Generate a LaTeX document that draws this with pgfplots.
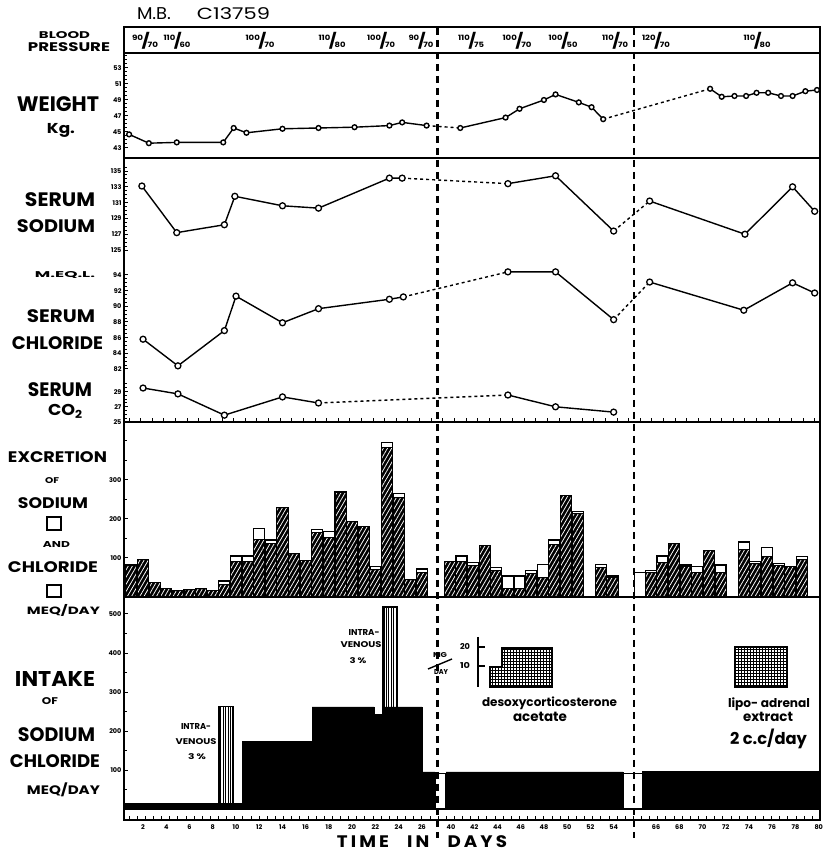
\documentclass[border=0pt]{standalone}
\usepackage{pgfplots}
\pgfplotsset{compat=1.18}
\usepackage{fontspec}
\setmainfont{Poppins}
\usetikzlibrary{patterns,patterns.meta}

\newcommand\lbl[5]{\node[inner sep=0pt] at (#1,#2) {\resizebox*{#3pt}{#4pt}{\bfseries #5}};}
\newcommand\lblw[4]{\node[inner sep=0pt] at (#1,#2) {\resizebox{#3pt}{!}{\bfseries #4}};}
\newcommand\bpf[2]{\raisebox{.55em}{\scriptsize #1}\kern-.12em{\Large/}\kern-.18em\raisebox{-.05em}{\scriptsize #2}}

\pgfplotsset{
  panel/.style={scale only axis, width=696pt, xmin=0.36, xmax=60.26, anchor=south west,
    axis line style={line width=2.2pt}, tick style={line width=1pt, black},
    major tick length=4pt, minor tick length=3pt,
    ytick pos=left, xtick pos=left,
    /pgf/number format/assume math mode=true,
    ticklabel style={font=\fontsize{6.5}{6.5}\selectfont\bfseries},
    yticklabel style={xshift=1pt},
    clip=false},
  wt/.style={line width=1.4pt, mark=*, mark size=2.4pt, mark options={fill=white, line width=1.4pt, solid}},
  sr/.style={line width=1.4pt, mark=*, mark size=3pt, mark options={fill=white, line width=1.3pt, solid}},
  dt/.style={line width=1.4pt, dash pattern=on 3pt off 3pt, no marks},
}

\begin{document}
\begin{tikzpicture}
\useasboundingbox (0,0) rectangle (823pt,853pt);

% ---------------- blood pressure strip
\begin{axis}[panel, at={(124pt,800pt)}, height=26pt, ymin=0, ymax=1, xtick=\empty, ytick=\empty]
\end{axis}

% ---------------- weight
\begin{axis}[panel, at={(124pt,695pt)}, height=105pt, ymin=41.75, ymax=54.875,
  ytick={43,45,...,53}, minor ytick={43.5,44,...,54.5}, xtick=\empty]
\addplot[dt] coordinates {(26.4,45.8)(29.3,45.5)};
\addplot[dt] coordinates {(41.6,46.6)(50.8,50.4)};
\addplot[wt] coordinates {(0.8,44.7)(2.5,43.6)(4.9,43.7)(8.9,43.7)(9.8,45.5)(10.9,44.9)(14.0,45.4)(17.1,45.5)(20.2,45.6)(23.2,45.8)(24.3,46.2)(26.4,45.8)};
\addplot[wt] coordinates {(29.3,45.5)(33.2,46.8)(34.4,47.9)(36.5,49.0)(37.5,49.7)(39.5,48.7)(40.6,48.1)(41.6,46.6)};
\addplot[wt] coordinates {(50.8,50.4)(51.8,49.4)(52.9,49.5)(53.9,49.5)(54.8,49.9)(55.8,49.9)(56.9,49.5)(57.9,49.5)(59.0,50.1)(60.0,50.25)};
\end{axis}

% ---------------- serum sodium (frame)
\begin{axis}[panel, at={(124pt,431pt)}, height=264pt, ymin=103.23, ymax=136.65,
  ytick={125,127,...,135}, minor ytick={125.5,126,...,135.5},
  xtick={0.8,1.8,...,60.2}, xticklabels={}]
\addplot[dt] coordinates {(24.3,134.1)(33.4,133.4)};
\addplot[dt] coordinates {(42.5,127.4)(45.6,131.2)};
\addplot[sr] coordinates {(1.9,133.1)(4.9,127.2)(9.0,128.2)(9.9,131.8)(14.0,130.6)(17.1,130.3)(23.2,134.1)(24.3,134.1)};
\addplot[sr] coordinates {(33.4,133.4)(37.5,134.4)(42.5,127.4)};
\addplot[sr] coordinates {(45.6,131.2)(53.8,127.0)(57.9,133.0)(59.8,129.9)};
\end{axis}

% ---------------- serum chloride (overlay)
\begin{axis}[panel, at={(124pt,431pt)}, height=264pt, ymin=75.23, ymax=108.94,
  axis line style={draw=none}, xtick=\empty,
  ytick={82,84,...,94}, minor ytick={82.5,83,...,94}]
\addplot[dt] coordinates {(24.4,91.2)(33.4,94.4)};
\addplot[dt] coordinates {(42.5,88.3)(45.6,93.1)};
\addplot[sr] coordinates {(2.0,85.8)(5.0,82.4)(9.0,86.9)(10.0,91.3)(14.0,87.9)(17.1,89.7)(23.2,90.9)(24.4,91.2)};
\addplot[sr] coordinates {(33.4,94.4)(37.5,94.4)(42.5,88.3)};
\addplot[sr] coordinates {(45.6,93.1)(53.7,89.5)(57.9,93.0)(59.8,91.7)};
\end{axis}

% ---------------- serum CO2 (overlay)
\begin{axis}[panel, at={(124pt,431pt)}, height=264pt, ymin=25, ymax=59.74,
  axis line style={draw=none}, xtick=\empty,
  ytick={25,27,29}, minor ytick={25.5,26,...,30}]
\addplot[dt] coordinates {(17.1,27.5)(33.4,28.55)};
\addplot[sr] coordinates {(2.0,29.47)(5.0,28.7)(9.0,25.9)(14.0,28.3)(17.1,27.5)};
\addplot[sr] coordinates {(33.4,28.55)(37.5,27.0)(42.5,26.3)};
\end{axis}

% ---------------- excretion
\begin{axis}[panel, at={(124pt,256pt)}, height=175pt, ymin=0, ymax=448.7,
  ytick={100,200,300}, minor ytick={50,150,250,350,400}, xtick=\empty]
\addplot[ybar, bar width=0.95, bar shift=0pt, fill=white, draw=black, line width=1.2pt] coordinates {
(1,82)(2,97)(3,37)(4,21)(5,17)(6,20)(7,22)(8,17)(9,41)(10,105)(11,105)(12,175)(13,146)(14,229)(15,112)(16,94)(17,174)(18,168)(19,269)(20,193)(21,180)(22,79)(23,396)(24,266)(25,45)(26,72)
(28.4,90)(29.4,105)(30.4,88)(31.4,131)(32.4,75)(33.4,54)(34.4,54)(35.4,67)(36.4,84)(37.4,146)(38.4,259)(39.4,220)(41.4,84)(42.4,54)
(44.8,62)(45.7,68)(46.7,105)(47.7,136)(48.7,82)(49.7,79)(50.7,118)(51.7,82)(53.7,141)(54.7,92)(55.7,126)(56.7,85)(57.7,77)(58.7,103)};
\addplot[ybar, bar width=0.95, bar shift=0pt, fill=black, draw=black, line width=1pt,
  postaction={pattern={Lines[angle=60, distance=3.6pt, line width=0.75pt]}, pattern color=white}] coordinates {
(1,82)(2,97)(3,37)(4,21)(5,17)(6,20)(7,22)(8,17)(9,33)(10,92)(11,92)(12,148)(13,136)(14,229)(15,112)(16,94)(17,165)(18,152)(19,269)(20,193)(21,180)(22,71)(23,383)(24,255)(25,45)(26,62)
(28.4,90)(29.4,92)(30.4,82)(31.4,131)(32.4,67)(33.4,23)(34.4,23)(35.4,60)(36.4,51)(37.4,135)(38.4,259)(39.4,215)(41.4,76)(42.4,49)
(45.7,64)(46.7,88)(47.7,136)(48.7,78)(49.7,62)(50.7,118)(51.7,62)(53.7,122)(54.7,86)(55.7,103)(56.7,80)(57.7,77)(58.7,96)};
\end{axis}

% ---------------- intake
\begin{axis}[panel, at={(124pt,33pt)}, height=223pt, ymin=-28.2, ymax=543.6,
  ytick={100,200,...,500}, minor ytick={50,150,...,450},
  xtick={0.8,1.5,...,60.2}, xticklabels={},
  extra x ticks={2,4,6,8,10,12,14,16,18,20,22,24,26,28.5,30.5,32.5,34.5,36.5,38.5,40.5,42.5,46.15,48.15,50.15,52.15,54.15,56.15,58.15,60.15},
  extra x tick labels={2,4,6,8,10,12,14,16,18,20,22,24,26,40,42,44,46,48,50,52,54,66,68,70,72,74,76,78,80},
  extra x tick style={tick style={draw=none}, xticklabel style={yshift=-1pt}}]
\addplot[fill=white, draw=black, line width=1.2pt, postaction={pattern={Lines[angle=90, distance=2.4pt, line width=0.8pt]}}] coordinates {(22.65,518)(23.86,518)} \closedcycle;
\addplot[fill=white, draw=black, line width=1.2pt, postaction={pattern={Lines[angle=90, distance=2.4pt, line width=0.8pt]}}] coordinates {(8.54,262)(9.75,262)} \closedcycle;
\addplot[const plot, fill=black, draw=black, line width=0.5pt] coordinates {(0.36,15)(8.54,15)(10.52,174)(16.55,262)(21.88,243)(22.65,262)(26.0,95)(27.13,0)(28.08,95)(43.3,0)(45.0,97)(60.26,97)} \closedcycle;
\addplot[fill=white, draw=black, line width=1.2pt] coordinates {(27.13,92)(28.08,92)} \closedcycle;
\addplot[fill=white, draw=black, line width=1.2pt] coordinates {(43.3,92)(45.0,92)} \closedcycle;
\end{axis}

% ---------------- text, dividers, decorations (pixel coordinates, y downward)
\begin{scope}[x=1pt,y=-1pt,yshift=853pt]
\draw[line width=2.6pt, dash pattern=on 7pt off 5pt] (437.5,28) -- (437.5,838);
\draw[line width=2.6pt, dash pattern=on 7pt off 5pt] (634,28) -- (634,838);

\node[inner sep=0pt] at (154,14) {\resizebox*{34pt}{12pt}{M.B.}};
\node[inner sep=0pt] at (233.5,14) {\resizebox*{73pt}{12pt}{C13759}};
\lbl{64.5}{35.5}{51}{7}{BLOOD}
\lbl{69}{47.5}{82}{9}{PRESSURE}
\lbl{58}{104.5}{82}{15}{WEIGHT}
\lbl{61}{130}{28}{14}{Kg.}
\lbl{60}{200}{70}{14}{SERUM}
\lbl{56}{226.5}{78}{13}{SODIUM}
\lbl{65}{275}{60}{7}{M.EQ.L.}
\lbl{61}{316.5}{68}{13}{SERUM}
\lbl{57.5}{343.5}{91}{13}{CHLORIDE}
\lbl{60}{390}{64}{14}{SERUM}
\lbl{65.5}{411.5}{35}{14}{CO\textsubscript{2}}
\lbl{57.5}{457.5}{99}{11}{EXCRETION}
\lbl{52}{481}{14}{6}{OF}
\lbl{53}{503.5}{70}{11}{SODIUM}
\draw[line width=1.6pt] (47,517) rectangle (61,530);
\lbl{56.5}{545}{27}{6}{AND}
\lbl{53}{567.5}{90}{11}{CHLORIDE}
\draw[line width=1.6pt] (47,585) rectangle (61,597);
\lbl{63.5}{610}{73}{12}{MEQ/DAY}
\lbl{55}{679.5}{80}{15}{INTAKE}
\lbl{50}{701.5}{16}{7}{OF}
\lbl{56.5}{735}{77}{14}{SODIUM}
\lbl{55}{761.5}{90}{13}{CHLORIDE}
\lbl{63.5}{790}{73}{14}{MEQ/DAY}
\lbl{422}{842}{170}{12}{T\,I\,M\,E\quad I\,N\quad D\,A\,Y\,S}

% blood pressure values
\lbl{145}{41}{26}{17}{\bpf{90}{70}}
\lbl{177}{41}{27}{17}{\bpf{110}{60}}
\lbl{260}{41}{29}{17}{\bpf{100}{70}}
\lbl{332}{41}{27}{17}{\bpf{110}{80}}
\lbl{381}{41}{28}{17}{\bpf{100}{70}}
\lbl{421}{41}{25}{17}{\bpf{90}{70}}
\lbl{471}{41}{26}{17}{\bpf{110}{75}}
\lbl{517}{41}{29}{17}{\bpf{100}{70}}
\lbl{563}{41}{29}{17}{\bpf{100}{50}}
\lbl{615}{41}{26}{17}{\bpf{110}{70}}
\lbl{656}{41}{28}{17}{\bpf{120}{70}}
\lbl{757}{41}{27}{17}{\bpf{110}{80}}

% intravenous notes
\lbl{196}{727}{30}{6}{INTRA-}
\lbl{196}{742}{41}{6}{VENOUS}
\lbl{197}{757}{18}{6}{3 \%}
\lbl{364}{633}{31}{6}{INTRA-}
\lbl{361}{645}{41}{6}{VENOUS}
\lbl{358}{661}{17}{6}{3 \%}

% DOCA
\lbl{440}{655}{14}{5}{MG}
\lbl{441}{672}{14}{5}{DAY}
\draw[line width=1.4pt] (428,669) -- (452,659);
\lbl{465}{647}{10}{6}{20}
\lbl{465}{666}{10}{6}{10}
\draw[line width=2pt] (478,637) -- (478,687);
\draw[line width=1.4pt] (478,647) -- (485,647) (478,666) -- (485,666);
\draw[line width=1.8pt, fill=white, postaction={pattern=grid}] (490,687) -- (490,667) -- (502,667) -- (502,648) -- (552,648) -- (552,687) -- cycle;
\lblw{549.5}{703}{135}{desoxycorticosterone}
\lblw{540}{717}{54}{acetate}

% lipo-adrenal
\draw[line width=1.8pt, fill=white, postaction={pattern=grid}] (735,647) rectangle (787,687);
\lblw{769}{704}{82}{lipo- adrenal}
\lblw{768}{717}{50}{extract}
\lblw{768.5}{739}{77}{2 c.c/day}
\end{scope}
\end{tikzpicture}
\end{document}
